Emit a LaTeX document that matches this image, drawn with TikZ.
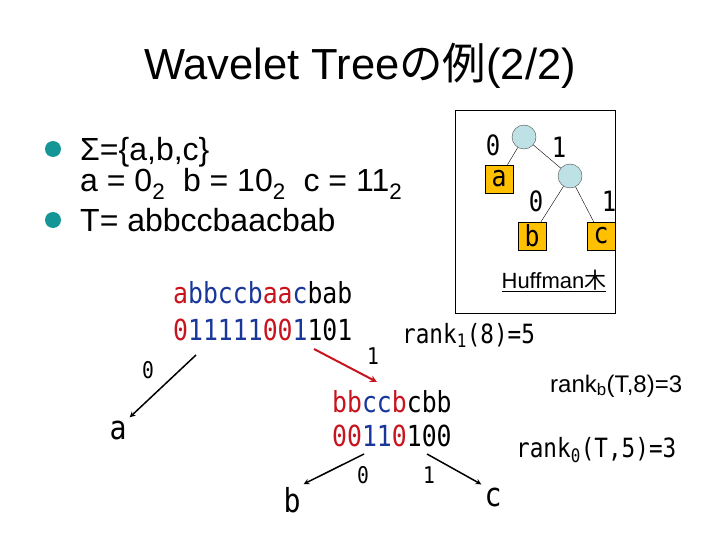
\documentclass[tikz,border=0pt]{standalone}
\usepackage{fontspec}
\setmainfont{Liberation Sans}
\newfontfamily\jpfont{Noto Sans CJK JP}
\newfontfamily\gothic[FakeStretch=0.855]{DejaVu Sans Mono}
\usepackage{xcolor}
\usetikzlibrary{calc, positioning}

\definecolor{wtred}{RGB}{200,20,30}
\definecolor{wtblue}{RGB}{25,55,155}
\definecolor{bulletteal}{RGB}{20,150,150}
\definecolor{hufcircle}{RGB}{190,225,230}
\definecolor{hufgold}{RGB}{255,192,0}

\tikzset{
  bodytext/.style={anchor=base west, inner sep=0pt, font=\fontsize{32}{34}\selectfont},
  strtext/.style={anchor=base west, inner sep=0pt, font=\gothic\fontsize{29}{31}\selectfont},
  ranktext/.style={anchor=base west, inner sep=0pt, font=\gothic\fontsize{26.5}{28}\selectfont},
  leaflabel/.style={inner sep=3pt, font=\gothic\fontsize{33}{35}\selectfont},
  edgelabel/.style={inner sep=0pt, font=\gothic\fontsize{23}{25}\selectfont},
  hufnode/.style={circle, draw=black!70, fill=hufcircle, minimum size=24pt, inner sep=0pt},
  hufleaf/.style={draw=black, fill=hufgold, minimum size=28pt, inner sep=0pt, font=\gothic\fontsize{29}{30}\selectfont},
  hufbit/.style={inner sep=0pt, font=\gothic\fontsize{28}{30}\selectfont},
  bulletdot/.style={fill=bulletteal},
}

\begin{document}
\begin{tikzpicture}[x=1pt, y=-1pt, >=stealth]
    \useasboundingbox (0,0) rectangle (720,540);

    % Title
    \node[anchor=base, inner sep=0pt, font=\fontsize{43.5}{46}\selectfont] (title) at (360,80) {Wavelet Tree{\jpfont の例}(2/2)};

    % Bullet list
    \fill[bulletdot] (53,149) circle (8);
    \node[bodytext] (sigma) at (80,161) {Σ=\{a,b,c\}};
    \node[bodytext] (codes) at (80,192) {a = 0\textsubscript{2}\ \ b = 10\textsubscript{2}\ \ c = 11\textsubscript{2}};
    \fill[bulletdot] (53,220) circle (8);
    \node[bodytext] (textT) at (80,232) {T= abbccbaacbab};

    % Huffman tree in the frame
    \draw[thick] (455,110) rectangle (615,313);
    \node[hufnode] (root) at (524,137) {};
    \node[hufnode] (inner) at (570,176) {};
    \node[hufleaf] (leafa) at (499,179) {a};
    \node[hufleaf] (leafb) at (532,236) {b};
    \node[hufleaf] (leafc) at (601,236) {c};
    \draw[thin] (root) -- (leafa);
    \draw[thin] (root) -- (inner);
    \draw[thin] (inner) -- (leafb);
    \draw[thin] (inner) -- (leafc);
    \node[hufbit] at (493,145) {0};
    \node[hufbit] at (559,147) {1};
    \node[hufbit] at (536,201) {0};
    \node[hufbit] at (609,201) {1};
    \node[anchor=base, font=\fontsize{22}{24}\selectfont, inner sep=0pt] (hufname) at (554,288) {\underline{Huffman{\jpfont 木}}};

    % Wavelet tree root
    \node[strtext] (str1) at (173,303) {\textcolor{wtred}{a}\textcolor{wtblue}{bbccb}\textcolor{wtred}{aa}\textcolor{wtblue}{c}bab};
    \node[strtext] (bits1) at (173,340) {\textcolor{wtred}{0}\textcolor{wtblue}{11111}\textcolor{wtred}{00}\textcolor{wtblue}{1}101};

    % Second level
    \node[strtext] (str2) at (332,412) {\textcolor{wtred}{bb}\textcolor{wtblue}{cc}\textcolor{wtred}{b}cbb};
    \node[strtext] (bits2) at (332,446) {\textcolor{wtred}{00}\textcolor{wtblue}{11}\textcolor{wtred}{0}100};

    % Leaves
    \node[leaflabel] (la) at (118,430) {a};
    \node[leaflabel] (lb) at (292,500) {b};
    \node[leaflabel] (lc) at (493,497) {c};

    % Connectors
    \coordinate (froma) at (196,355);
    \coordinate (fromone) at (314,349);
    \coordinate (fromb) at (364,454);
    \coordinate (fromc) at (427,454);
    \draw[->, line width=1.5pt] (froma) -- (la.north east);
    \draw[->, line width=2pt, wtred, shorten >=17pt] (fromone) -- (str2.north);
    \draw[->, line width=1.5pt] (fromb) -- (lb.north east);
    \draw[->, line width=1.5pt] (fromc) -- (lc.north west);

    \node[edgelabel] at (148,370) {0};
    \node[edgelabel] at (373,356) {1};
    \node[edgelabel] at (363,475) {0};
    \node[edgelabel] at (429,475) {1};

    % rank annotations
    \node[ranktext] (rankone) at (402,343) {rank\textsubscript{1}(8)=5};
    \node[anchor=base west, inner sep=0pt, font=\fontsize{24}{26}\selectfont] (rankb) at (550,392) {rank\textsubscript{b}(T,8)=3};
    \node[ranktext] (rankzero) at (516,457) {rank\textsubscript{0}(T,5)=3};
\end{tikzpicture}
\end{document}
